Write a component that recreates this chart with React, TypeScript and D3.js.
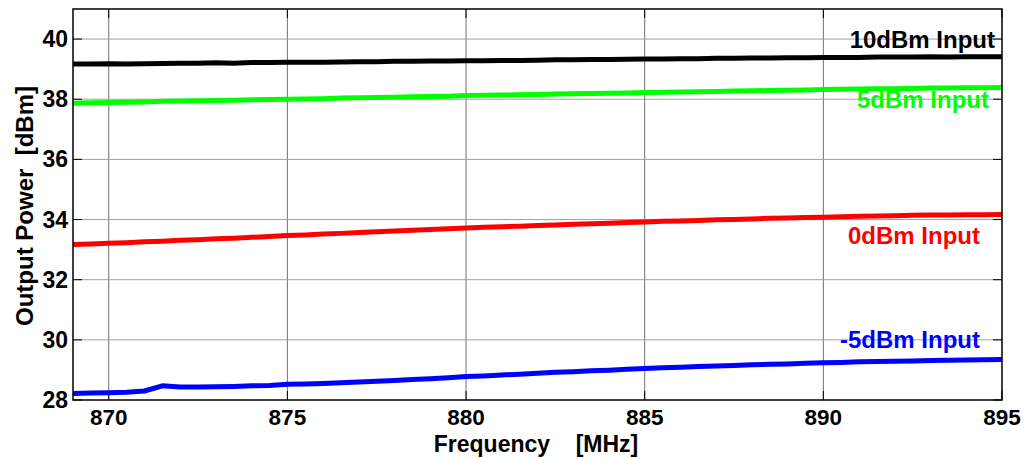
import React from "react";
import * as d3 from "d3";

const freq = [869, 869.5, 870, 870.5, 871, 871.5, 872, 872.5, 873, 873.5, 874, 874.5, 875, 875.5, 876, 876.5, 877, 877.5, 878, 878.5, 879, 879.5, 880, 880.5, 881, 881.5, 882, 882.5, 883, 883.5, 884, 884.5, 885, 885.5, 886, 886.5, 887, 887.5, 888, 888.5, 889, 889.5, 890, 890.5, 891, 891.5, 892, 892.5, 893, 893.5, 894, 894.5, 895];

const p10 = [39.17, 39.17, 39.18, 39.17, 39.18, 39.19, 39.2, 39.2, 39.21, 39.2, 39.22, 39.22, 39.23, 39.23, 39.23, 39.24, 39.25, 39.25, 39.26, 39.26, 39.27, 39.27, 39.28, 39.28, 39.29, 39.29, 39.3, 39.31, 39.31, 39.32, 39.32, 39.33, 39.34, 39.34, 39.35, 39.35, 39.36, 39.36, 39.37, 39.37, 39.38, 39.38, 39.39, 39.39, 39.39, 39.4, 39.4, 39.4, 39.41, 39.4, 39.41, 39.41, 39.41];

const p5 = [37.87, 37.88, 37.89, 37.9, 37.91, 37.93, 37.94, 37.95, 37.96, 37.97, 37.98, 37.99, 38.0, 38.01, 38.02, 38.04, 38.05, 38.06, 38.07, 38.08, 38.09, 38.1, 38.12, 38.13, 38.14, 38.15, 38.16, 38.17, 38.18, 38.19, 38.2, 38.21, 38.22, 38.23, 38.24, 38.25, 38.26, 38.27, 38.28, 38.29, 38.3, 38.31, 38.32, 38.33, 38.34, 38.35, 38.35, 38.36, 38.37, 38.37, 38.38, 38.38, 38.39];

const p0 = [33.17, 33.19, 33.21, 33.23, 33.26, 33.28, 33.31, 33.33, 33.36, 33.38, 33.41, 33.44, 33.47, 33.49, 33.52, 33.54, 33.57, 33.59, 33.62, 33.64, 33.67, 33.69, 33.72, 33.74, 33.76, 33.78, 33.8, 33.82, 33.84, 33.86, 33.88, 33.9, 33.92, 33.94, 33.95, 33.97, 33.99, 34.0, 34.02, 34.04, 34.05, 34.07, 34.08, 34.09, 34.11, 34.12, 34.13, 34.14, 34.15, 34.15, 34.16, 34.16, 34.17];

const pm5 = [28.22, 28.23, 28.24, 28.26, 28.3, 28.47, 28.43, 28.43, 28.44, 28.45, 28.47, 28.48, 28.52, 28.53, 28.55, 28.57, 28.6, 28.62, 28.65, 28.68, 28.71, 28.74, 28.78, 28.8, 28.83, 28.86, 28.89, 28.92, 28.94, 28.97, 28.99, 29.02, 29.05, 29.07, 29.09, 29.11, 29.13, 29.15, 29.17, 29.19, 29.2, 29.22, 29.24, 29.25, 29.27, 29.28, 29.29, 29.3, 29.31, 29.32, 29.33, 29.34, 29.35];

const seriesNames = ["10dBm Input", "5dBm Input", "0dBm Input", "-5dBm Input"];
const seriesColors = ["#000000", "#00ff00", "#ff0000", "#0000ff"];
const seriesData = [p10, p5, p0, pm5];
const labelAnchorY = [39.7, 37.7, 33.2, 29.73];

const xTicks = [870, 875, 880, 885, 890, 895];
const yTicks = [28, 30, 32, 34, 36, 38, 40];

export default function App() {
  const W = 1024, H = 459;
  const m = { left: 73, right: 1002, top: 9, bottom: 400 };
  const x = d3.scaleLinear().domain([869, 895]).range([m.left, m.right]);
  const y = d3.scaleLinear().domain([28, 41]).range([m.bottom, m.top]);
  const line = d3.line<number>().x((_, i) => x(freq[i])).y((d) => y(d));
  const font = "'Liberation Sans', Arial, sans-serif";
  const labelRight = [995, 989, 980, 980];
  return (
    <svg width={W} height={H} style={{ position: "absolute", left: 0, top: 0 }} fontFamily={font}>
      <rect x={0} y={0} width={W} height={H} fill="#fff" />
      {xTicks.filter((t) => t < 895).map((t) => (
        <line key={"gx" + t} x1={x(t)} x2={x(t)} y1={m.top} y2={m.bottom} stroke="#707070" strokeWidth={1} />
      ))}
      {yTicks.filter((t) => t > 28).map((t) => (
        <line key={"gy" + t} x1={m.left} x2={m.right} y1={y(t)} y2={y(t)} stroke="#a0a0a0" strokeWidth={1} />
      ))}
      {xTicks.map((t) => (
        <g key={"tx" + t}>
          <line x1={x(t)} x2={x(t)} y1={m.bottom} y2={m.bottom - 9} stroke="#000" strokeWidth={1} />
          <line x1={x(t)} x2={x(t)} y1={m.top} y2={m.top + 9} stroke="#000" strokeWidth={1} />
        </g>
      ))}
      {yTicks.map((t) => (
        <g key={"ty" + t}>
          <line x1={m.left} x2={m.left + 9} y1={y(t)} y2={y(t)} stroke="#000" strokeWidth={1} />
          <line x1={m.right} x2={m.right - 9} y1={y(t)} y2={y(t)} stroke="#000" strokeWidth={1} />
        </g>
      ))}
      {seriesData.map((s, i) => (
        <path key={"s" + i} d={line(s) || ""} fill="none" stroke={seriesColors[i]} strokeWidth={5} strokeLinejoin="round" />
      ))}
      <rect x={m.left} y={m.top} width={m.right - m.left} height={m.bottom - m.top} fill="none" stroke="#000" strokeWidth={1.5} />
      {seriesNames.map((n, i) => (
        <text key={"l" + i} x={labelRight[i]} y={y(labelAnchorY[i])} textAnchor="end" fontSize={24} fontWeight="bold" fill={seriesColors[i]}>
          {n}
        </text>
      ))}
      {xTicks.map((t) => (
        <text key={"xl" + t} x={x(t)} y={425} textAnchor="middle" fontSize={22.5} fontWeight="bold">{t}</text>
      ))}
      {yTicks.map((t) => (
        <text key={"yl" + t} x={68} y={y(t) + 8} textAnchor="end" fontSize={23} fontWeight="bold">{t}</text>
      ))}
      <text x={536} y={452} textAnchor="middle" fontSize={23} fontWeight="bold" style={{ whiteSpace: "pre" }}>{"Frequency    [MHz]"}</text>
      <text transform={`translate(33, ${206}) rotate(-90)`} textAnchor="middle" fontSize={24} fontWeight="bold" style={{ whiteSpace: "pre" }}>{"Output Power  [dBm]"}</text>
    </svg>
  );
}
